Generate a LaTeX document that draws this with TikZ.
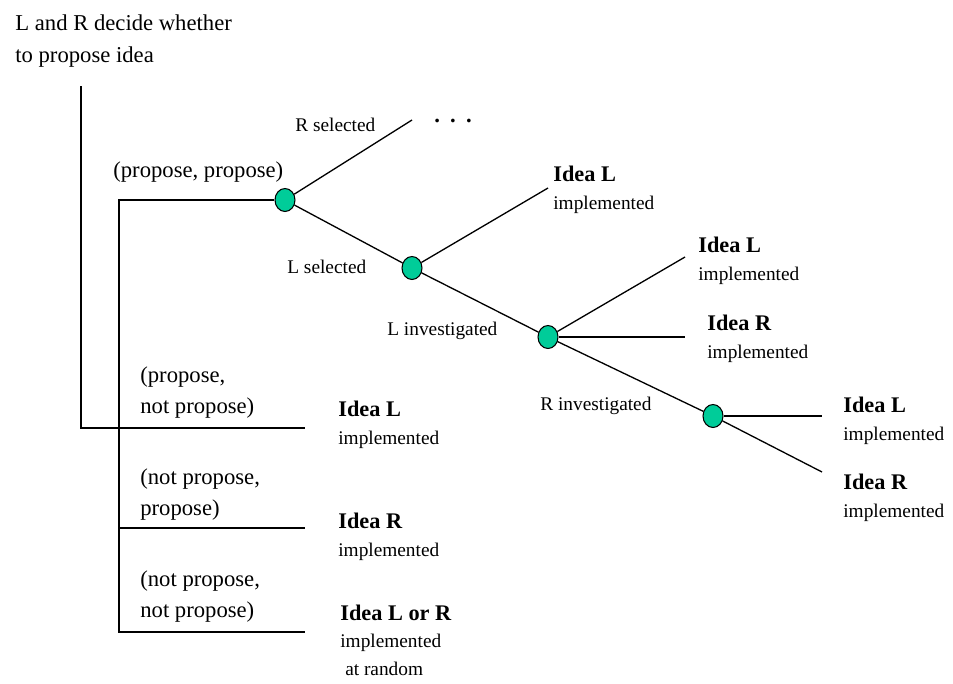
\documentclass[tikz,border=0pt]{standalone}
\usepackage{fontspec}
\setmainfont{Liberation Serif}
\usetikzlibrary{positioning,shapes.geometric}
\definecolor{TreeGreen}{RGB}{0,204,153}
\tikzset{
  gt/chance/.style={
    ellipse,
    draw=black,
    line width=0.6pt,
    fill=TreeGreen,
    inner sep=0pt,
    minimum width=0.4cm,
    minimum height=0.46cm
  },
  gt/edge/.style={draw=black, line width=0.75pt},
  gt/move/.style={font=\fontsize{12.9}{17.6}\selectfont, anchor=base west, inner sep=0pt, align=left},
  gt/event/.style={font=\fontsize{11}{14}\selectfont, anchor=base west, inner sep=0pt},
  gt/outcome/.style={font=\fontsize{11}{15.6}\selectfont, anchor=base west, inner sep=0pt, align=left}
}
\newcommand{\ideatext}[1]{{\fontsize{12.7}{15.6}\selectfont\bfseries #1}}

\begin{document}
\begin{tikzpicture}[x=0.02cm,y=-0.02cm]
  \useasboundingbox (0,0) rectangle (953,683);
  \node[gt/move,font=\fontsize{12.9}{18.1}\selectfont] (title) at (15,62) {L and R decide whether\\to propose idea};

  \coordinate (root) at (81,86);
  \coordinate (spine) at (119,200);
  \coordinate (pnp) at (305,428);
  \coordinate (npp) at (305,528);
  \coordinate (npnp) at (305,632);
  \node[gt/chance] (pp) at (285,200) {};
  \node[gt/chance] (lsel) at (412,268) {};
  \node[gt/chance] (linv) at (548,337) {};
  \node[gt/chance] (rinv) at (713,416) {};
  \coordinate (rsel) at (412,120);
  \coordinate (lsel-up) at (548,188);
  \coordinate (linv-up) at (685,257);
  \coordinate (linv-mid) at (685,337);
  \coordinate (rinv-mid) at (822,416);
  \coordinate (rinv-down) at (822,472);

  \draw[gt/edge] (root) |- (pnp);
  \draw[gt/edge] (pp) -- (spine) |- (npnp);
  \draw[gt/edge] (spine |- npp) -- (npp);
  \draw[gt/edge] (pp) -- (rsel);
  \draw[gt/edge] (pp) -- (lsel);
  \draw[gt/edge] (lsel) -- (lsel-up);
  \draw[gt/edge] (lsel) -- (linv);
  \draw[gt/edge] (linv) -- (linv-up);
  \draw[gt/edge] (linv) -- (linv-mid);
  \draw[gt/edge] (linv) -- (rinv);
  \draw[gt/edge] (rinv) -- (rinv-mid);
  \draw[gt/edge] (rinv) -- (rinv-down);

  \node[gt/move,anchor=base] (more) at (453,122) {\textbf{.\hspace{5.8pt}.\hspace{5.8pt}.}};
  \node[gt/move] (pp-lbl) at (113,177) {(propose, propose)};
  \node[gt/move] (pnp-lbl) at (140,413) {(propose,\\not propose)};
  \node[gt/move] (npp-lbl) at (140,515) {(not propose,\\propose)};
  \node[gt/move] (npnp-lbl) at (140,617) {(not propose,\\not propose)};
  \node[gt/event] (rsel-lbl) at (295,131) {R selected};
  \node[gt/event] (lsel-lbl) at (287,273) {L selected};
  \node[gt/event] (linv-lbl) at (387,335) {L investigated};
  \node[gt/event] (rinv-lbl) at (540,410) {R investigated};

  \node[gt/outcome] (out1) at (553,209) {\ideatext{Idea L}\\implemented};
  \node[gt/outcome] (out2) at (698,280) {\ideatext{Idea L}\\implemented};
  \node[gt/outcome] (out3) at (707,358) {\ideatext{Idea R}\\implemented};
  \node[gt/outcome] (out4) at (843,440) {\ideatext{Idea L}\\implemented};
  \node[gt/outcome] (out5) at (843,517) {\ideatext{Idea R}\\implemented};
  \node[gt/outcome] (out6) at (338,444) {\ideatext{Idea L}\\implemented};
  \node[gt/outcome] (out7) at (338,556) {\ideatext{Idea R}\\implemented};
  \node[gt/outcome] (out8) at (340,675) {\ideatext{Idea L or R}\\implemented\\\hspace*{2.8pt}at random};
\end{tikzpicture}
\end{document}
